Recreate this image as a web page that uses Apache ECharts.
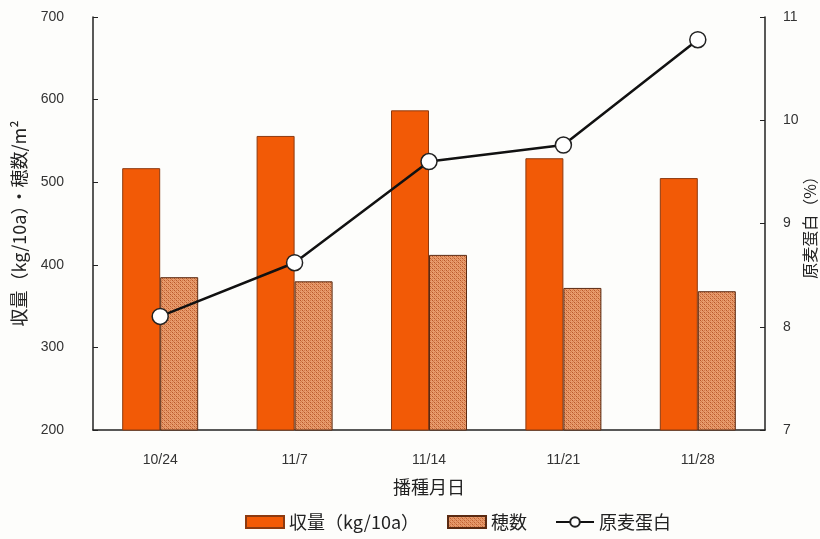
<!DOCTYPE html>
<html>
<head>
<meta charset="utf-8">
<script src="https://cdn.jsdelivr.net/npm/echarts@6/dist/echarts.min.js"></script>
<style>
  html, body { margin: 0; padding: 0; background: #fdfdfb; }
  #chart { width: 820px; height: 539px; }
</style>
</head>
<body>
<div id="chart"></div>
<script>
// Sowing dates
const categories = ['10/24', '11/7', '11/14', '11/21', '11/28'];
// Yield (kg/10a)
const yieldValues = [517, 556, 587, 529, 505];
// Ears per m2
const earValues = [385, 380, 412, 372, 368];
// Grain protein (%)
const proteinValues = [8.1, 8.62, 9.6, 9.76, 10.78];

const FONT = '"Liberation Sans", Arial, sans-serif';
const JP = '"Noto Sans CJK JP", "Liberation Sans", sans-serif';

// Dotted cross-hatch fill for the ear-count bars
function hatchPattern() {
  const c = document.createElement('canvas');
  c.width = 4; c.height = 4;
  const g = c.getContext('2d');
  g.fillStyle = '#e89c6e';
  g.fillRect(0, 0, 4, 4);
  g.fillStyle = '#b9572a';
  g.fillRect(0, 0, 1, 1);
  g.fillRect(2, 2, 1, 1);
  g.fillStyle = '#d27a48';
  g.fillRect(2, 0, 1, 1);
  g.fillRect(0, 2, 1, 1);
  g.fillRect(1, 1, 1, 1);
  g.fillRect(3, 3, 1, 1);
  return c;
}
const hatch = { image: hatchPattern(), repeat: 'repeat' };

const chart = echarts.init(document.getElementById('chart'));
chart.setOption({
  backgroundColor: '#fdfdfb',
  animation: false,
  grid: { left: 93, right: 55, top: 17, bottom: 109, outerBoundsMode: 'none', containLabel: false },
  legend: {
    bottom: 3,
    left: 240,
    itemWidth: 38,
    itemHeight: 12,
    itemGap: 28,
    textStyle: { fontFamily: JP, fontSize: 18, color: '#222' },
    data: [
      { name: '収量（kg/10a）', icon: 'rect' },
      { name: '穂数', icon: 'rect' },
      { name: '原麦蛋白' }
    ]
  },
  xAxis: {
    type: 'category',
    data: categories,
    name: '播種月日',
    nameLocation: 'middle',
    nameGap: 48,
    nameTextStyle: { fontFamily: JP, fontSize: 18, color: '#222' },
    axisLine: { lineStyle: { color: '#222', width: 1.5 } },
    axisTick: { inside: true, length: 5, lineStyle: { color: '#222' } },
    axisLabel: { fontFamily: FONT, fontSize: 14, color: '#333', margin: 23 }
  },
  yAxis: [
    {
      type: 'value',
      min: 200, max: 700, interval: 100,
      name: '収量（kg/10a）・穂数/m²',
      nameLocation: 'middle',
      nameRotate: 90,
      nameGap: 65,
      nameTextStyle: { fontFamily: JP, fontSize: 18, color: '#222' },
      axisLine: { show: true, lineStyle: { color: '#222', width: 1.5 } },
      axisTick: { show: true, inside: true, length: 5, lineStyle: { color: '#222' } },
      axisLabel: { fontFamily: FONT, fontSize: 14, color: '#333', margin: 29 },
      splitLine: { show: false }
    },
    {
      type: 'value',
      min: 7, max: 11, interval: 1,
      name: '原麦蛋白（%）',
      nameLocation: 'middle',
      nameRotate: 90,
      nameGap: 37,
      nameMoveOverlap: false,
      nameTextStyle: { fontFamily: JP, fontSize: 16, color: '#222' },
      axisLine: { show: true, lineStyle: { color: '#222', width: 1.5 } },
      axisTick: { show: true, inside: true, length: 5, lineStyle: { color: '#222' } },
      axisLabel: { fontFamily: FONT, fontSize: 14, color: '#333', margin: 18 },
      splitLine: { show: false }
    }
  ],
  series: [
    {
      name: '収量（kg/10a）',
      type: 'bar',
      data: yieldValues,
      barWidth: 38,
      barGap: '0%',
      itemStyle: { color: '#f25a06', borderColor: '#8c3a10', borderWidth: 1 }
    },
    {
      name: '穂数',
      type: 'bar',
      data: earValues,
      barWidth: 38,
      itemStyle: { color: hatch, borderColor: '#5a2a12', borderWidth: 1 }
    },
    {
      name: '原麦蛋白',
      type: 'line',
      yAxisIndex: 1,
      data: proteinValues,
      symbol: 'circle',
      symbolSize: 16,
      z: 5,
      lineStyle: { color: '#111', width: 2.5 },
      itemStyle: { color: '#ffffff', borderColor: '#222', borderWidth: 1.5 }
    }
  ]
});
</script>
</body>
</html>
